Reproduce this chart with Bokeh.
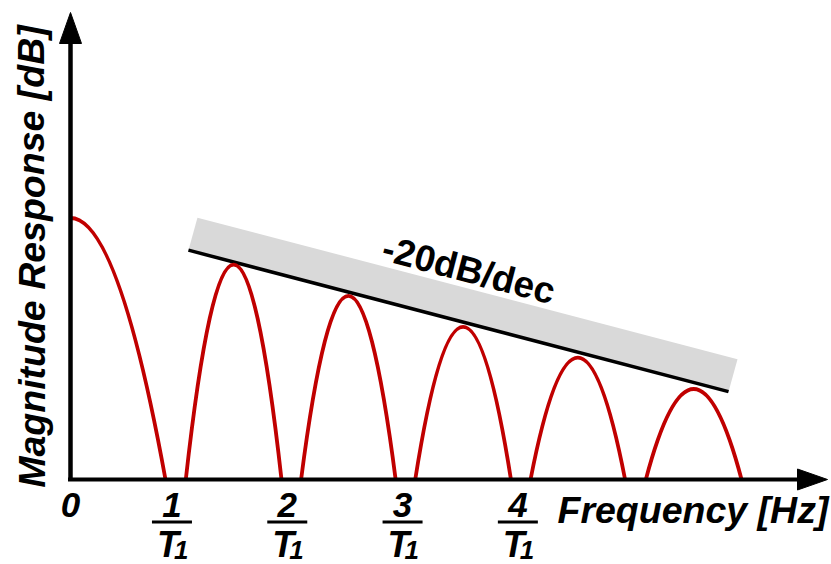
import math
from bokeh.plotting import figure
from bokeh.models import Range1d
from bokeh.core.properties import value
from bokeh.embed import file_html
from bokeh.resources import INLINE

# ---------------- data ----------------
# frequency in units of 1/T1 measured from the magnitude axis, level in dB
lobe_start = [0.0, 1.0, 2.0, 2.99, 3.99, 4.99]
lobe_end = [0.824, 1.83, 2.82, 3.82, 4.81, 5.82]
lobe_peak_db = [0.0, -8.9, -14.9, -20.8, -26.7, -32.7]
floor_db = -50.0

tick_freq = [0.88, 1.88, 2.88, 3.88]
tick_num = ["1", "2", "3", "4"]
tick_den = "T"
tick_sub = "1"
origin_label = "0"

asym_freq = [1.023, 5.707]
asym_db = [-6.15, -33.2]
slope_label = "-20dB/dec"

x_label = "Frequency [Hz]"
y_label = "Magnitude Response [dB]"

# ---------------- layout ----------------
W, H = 831, 564
X0_PX, PX_PER_F = 70.0, 115.3      # pixel of f=0, pixels per 1/T1
Y0_PX, PX_PER_DB = 217.5, 5.23     # pixel of 0 dB, pixels per dB
TXT_DY = 13.0                      # renderer baseline correction (px)


def fx(px):
    return (px - X0_PX) / PX_PER_F


def fy(py):
    return (Y0_PX - py) / PX_PER_DB


def dfx(dpx):
    return dpx / PX_PER_F


def dfy(dpx):
    return dpx / PX_PER_DB


RED = "#C00000"
FONT = value("Liberation Sans")

p = figure(width=W, height=H, x_range=Range1d(fx(0), fx(W)), y_range=Range1d(fy(H), fy(0)),
           output_backend="svg", toolbar_location=None, min_border=0)
p.axis.visible = False
p.grid.visible = False
p.outline_line_color = None
p.background_fill_color = "white"
p.border_fill_color = "white"

# ---- gray band + asymptote ----
band_dx, band_dy = dfx(9), dfy(32.5)
p.patch([asym_freq[0], asym_freq[0] + band_dx, asym_freq[1] + band_dx, asym_freq[1]],
        [asym_db[0], asym_db[0] + band_dy, asym_db[1] + band_dy, asym_db[1]],
        fill_color="#D9D9D9", line_color=None)
p.line(asym_freq, asym_db, line_color="black", line_width=3.5)

# ---- lobes (parabolic arches) ----
p.quadratic(x0=[lobe_start[0]], y0=[lobe_peak_db[0]], x1=[lobe_end[0]], y1=[floor_db],
            cx=[(lobe_start[0] + lobe_end[0]) / 2], cy=[lobe_peak_db[0]],
            line_color=RED, line_width=3.8)
xs0, xs1, cxs, cys = [], [], [], []
for s, e, pk in zip(lobe_start[1:], lobe_end[1:], lobe_peak_db[1:]):
    xs0.append(s)
    xs1.append(e)
    cxs.append((s + e) / 2)
    cys.append(2 * pk - floor_db)
p.quadratic(x0=xs0, y0=[floor_db] * len(xs0), x1=xs1, y1=[floor_db] * len(xs1),
            cx=cxs, cy=cys, line_color=RED, line_width=3.8)

# ---- axes with arrow heads ----
y_tip = fy(12)
x_tip = fx(827)
p.segment(x0=[0], y0=[floor_db], x1=[0], y1=[y_tip - dfy(20)], line_color="black", line_width=4.5)
p.segment(x0=[fx(67.5)], y0=[floor_db], x1=[x_tip - dfx(20)], y1=[floor_db], line_color="black", line_width=4)
p.patch([0 - dfx(11), 0, 0 + dfx(11)], [y_tip - dfy(31), y_tip, y_tip - dfy(31)],
        fill_color="black", line_color="black", line_width=1)
p.patch([x_tip - dfx(30), x_tip, x_tip - dfx(30)], [floor_db + dfy(10.5), floor_db, floor_db - dfy(10.5)],
        fill_color="black", line_color="black", line_width=1)


def ty(py):
    return fy(py - TXT_DY)


# ---- tick labels as fractions ----
p.text(x=[0], y=[ty(517)], text=[origin_label], text_font=FONT, text_font_style="bold italic",
       text_font_size="35px", text_align="center", text_baseline="alphabetic", text_color="black")
p.text(x=tick_freq, y=[ty(517)] * len(tick_freq), text=tick_num, text_font=FONT,
       text_font_style="bold italic", text_font_size="35px", text_align="center",
       text_baseline="alphabetic", text_color="black")
p.segment(x0=[t - dfx(20) for t in tick_freq], y0=[fy(521.5)] * len(tick_freq),
          x1=[t + dfx(20) for t in tick_freq], y1=[fy(521.5)] * len(tick_freq),
          line_color="black", line_width=3.2)
p.text(x=[t + dfx(7) for t in tick_freq], y=[ty(557)] * len(tick_freq), text=[tick_den] * len(tick_freq),
       text_font=FONT, text_font_style="bold italic", text_font_size="36px", text_align="right",
       text_baseline="alphabetic", text_color="black")
p.text(x=[t + dfx(2) for t in tick_freq], y=[ty(562)] * len(tick_freq), text=[tick_sub] * len(tick_freq),
       text_font=FONT, text_font_style="bold italic", text_font_size="26px", text_align="left",
       text_baseline="alphabetic", text_color="black")

# ---- axis titles ----
p.text(x=[fx(557)], y=[ty(522)], text=[x_label], text_font=FONT, text_font_style="bold italic",
       text_font_size="37.5px", text_align="left", text_baseline="alphabetic", text_color="black")
p.text(x=[fx(44 - TXT_DY)], y=[fy(256)], text=[y_label], angle=[90], angle_units="deg", text_font=FONT,
       text_font_style="bold italic", text_font_size="37.5px", text_align="center",
       text_baseline="alphabetic", text_color="black")

# ---- slope label ----
ang = -math.degrees(math.atan2((asym_db[0] - asym_db[1]) * PX_PER_DB, (asym_freq[1] - asym_freq[0]) * PX_PER_F))
a = math.radians(-ang)
lx = 465 + TXT_DY * math.sin(a)
ly = 282 - TXT_DY * math.cos(a)
p.text(x=[fx(lx)], y=[fy(ly)], text=[slope_label], angle=[ang], angle_units="deg", text_font=FONT,
       text_font_style="bold", text_font_size="37px", text_align="center", text_baseline="alphabetic",
       text_color="black")

open("out.html", "w").write(file_html(p, INLINE))
